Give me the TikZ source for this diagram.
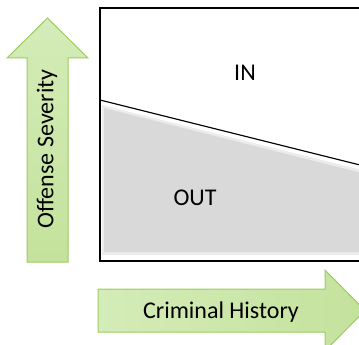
\documentclass[tikz,border=0pt]{standalone}
\usepackage{fontspec}
\setmainfont{Carlito}
\begin{document}
\begin{tikzpicture}[x=1pt,y=-1pt,
  arrowshape/.style={draw={rgb,255:red,155;green,205;blue,95},line width=1pt,
     top color={rgb,255:red,212;green,236;blue,184},bottom color={rgb,255:red,196;green,226;blue,156}},
  harrowshape/.style={draw={rgb,255:red,155;green,205;blue,95},line width=1pt,
     left color={rgb,255:red,212;green,236;blue,184},right color={rgb,255:red,196;green,226;blue,156}},
  lbl/.style={font=\fontsize{24}{28}\selectfont,text=black,inner sep=0pt}]
\useasboundingbox (0,0) rectangle (359,345);
\clip (0,0) rectangle (359,345);
% gray OUT region with soft edge
\fill[gray!15] (102,105) -- (362,170) -- (362,255) -- (102,255) -- cycle;
\fill[gray!30] (104,108) -- (362,173) -- (362,252) -- (104,252) -- cycle;
% box
\draw[line width=1.2pt] (100,8) rectangle (364,261);
\draw[line width=1.2pt] (100,100) -- (364,166);
\node[lbl] (in) at (245,73) {IN};
\node[lbl] (out) at (195,198) {OUT};
% vertical arrow
\path[arrowshape] (27,262) -- (27,58) -- (7,58) -- (47.5,18) -- (88,58) -- (68,58) -- (68,262) -- cycle;
\node[lbl,rotate=90] (sev) at (47,149) {Offense Severity};
% horizontal arrow
\path[harrowshape] (98,289) -- (325,289) -- (325,270) -- (365,310.5) -- (325,351) -- (325,332) -- (98,332) -- cycle;
\node[lbl] (hist) at (221,312) {Criminal History};
\end{tikzpicture}
\end{document}
